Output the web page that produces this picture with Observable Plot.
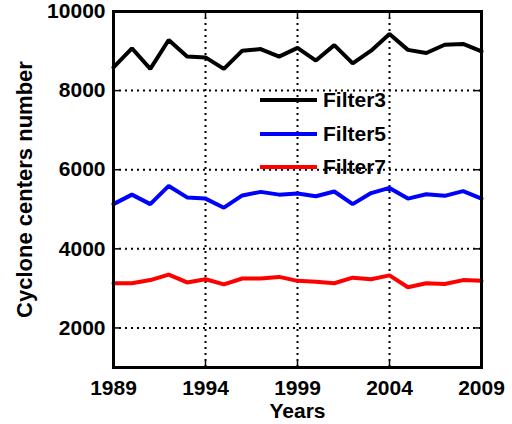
<!DOCTYPE html>
<html><head><meta charset="utf-8">
<script src="https://cdn.jsdelivr.net/npm/d3@7"></script>
<script src="https://cdn.jsdelivr.net/npm/@observablehq/plot@0.6"></script>
<style>
body{margin:0;background:#fff;}
#wrap{position:relative;width:512px;height:424px;font-family:"Liberation Sans",Arial,Helvetica,sans-serif;font-weight:bold;}
.leg{position:absolute;left:260px;height:24px;margin-top:-12px;display:flex;align-items:center;font-size:21px;color:#000;}
.leg .sw{display:inline-block;width:57px;height:4px;margin-right:6px;}
</style></head><body><div id="wrap"></div>
<script>
const years = [1989,1990,1991,1992,1993,1994,1995,1996,1997,1998,1999,2000,2001,2002,2003,2004,2005,2006,2007,2008,2009];
const filter3 = [8590,9070,8550,9280,8860,8840,8550,9010,9050,8860,9080,8760,9150,8690,9010,9430,9030,8950,9160,9180,8990];
const filter5 = [5130,5370,5130,5590,5300,5270,5040,5350,5440,5370,5400,5330,5450,5130,5410,5540,5270,5380,5340,5460,5270];
const filter7 = [3130,3130,3210,3350,3150,3230,3100,3250,3250,3290,3190,3170,3130,3270,3230,3330,3030,3130,3110,3210,3190];
const seriesNames = ["Filter3","Filter5","Filter7"];
const seriesColors = ["#000000","#0000ff","#ff0000"];
const xTicks = [1989,1994,1999,2004,2009];
const yTicks = [2000,4000,6000,8000,10000];
const yLabel = "Cyclone centers number";
const xLabel = "Years";

const seriesValues = [filter3, filter5, filter7];
const rows = [];
seriesNames.forEach((name, s) => years.forEach((yr, i) => rows.push({series: name, year: yr, value: seriesValues[s][i]})));

const font = '"Liberation Sans", Arial, Helvetica, sans-serif';
const chart = Plot.plot({
  width: 512, height: 424,
  marginLeft: 113, marginRight: 31, marginTop: 11, marginBottom: 57,
  style: {fontFamily: font, fontWeight: "bold", fontSize: "21px", background: "white", color: "black"},
  x: {domain: [1989, 2009]},
  y: {domain: [1000, 10000]},
  color: {domain: seriesNames, range: seriesColors},
  marks: [
    Plot.gridX(xTicks.slice(1, -1), {stroke: "black", strokeOpacity: 1, strokeWidth: 2, strokeDasharray: "2,4"}),
    Plot.gridY(yTicks.slice(0, -1), {stroke: "black", strokeOpacity: 1, strokeWidth: 2, strokeDasharray: "2,4"}),
    Plot.tickY(yTicks, {y: d => d, insetRight: 362, strokeWidth: 1.5}),
    Plot.tickY(yTicks, {y: d => d, insetLeft: 362, strokeWidth: 1.5}),
    Plot.tickX(xTicks, {x: d => d, insetTop: 350, strokeWidth: 1.5}),
    Plot.tickX(xTicks, {x: d => d, insetBottom: 350, strokeWidth: 1.5}),
    Plot.line(rows, {x: "year", y: "value", z: "series", stroke: "series", strokeWidth: 4, strokeLinejoin: "miter"}),
    Plot.frame({stroke: "black", strokeWidth: 3}),
    Plot.axisX({ticks: xTicks, tickFormat: d => String(d), tickSize: 0, tickPadding: 13, label: null, fontSize: 21}),
    Plot.axisY({ticks: yTicks, tickFormat: d => String(d), tickSize: 0, tickPadding: 8, label: null, fontSize: 21}),
    Plot.text([yLabel], {frameAnchor: "left", textAnchor: "middle", lineAnchor: "middle", dx: -89, rotate: -90, fontSize: 22, fontWeight: "bold"}),
    Plot.text([xLabel], {frameAnchor: "bottom", textAnchor: "middle", lineAnchor: "middle", dy: 44, fontSize: 21, fontWeight: "bold"})
  ]
});
const wrap = document.getElementById("wrap");
wrap.appendChild(chart);
const legTops = [100, 134, 167];
seriesNames.forEach((name, i) => {
  const d = document.createElement("div");
  d.className = "leg";
  d.style.top = legTops[i] + "px";
  d.innerHTML = `<span class="sw" style="background:${seriesColors[i]}"></span><span>${name}</span>`;
  wrap.appendChild(d);
});
</script></body></html>
